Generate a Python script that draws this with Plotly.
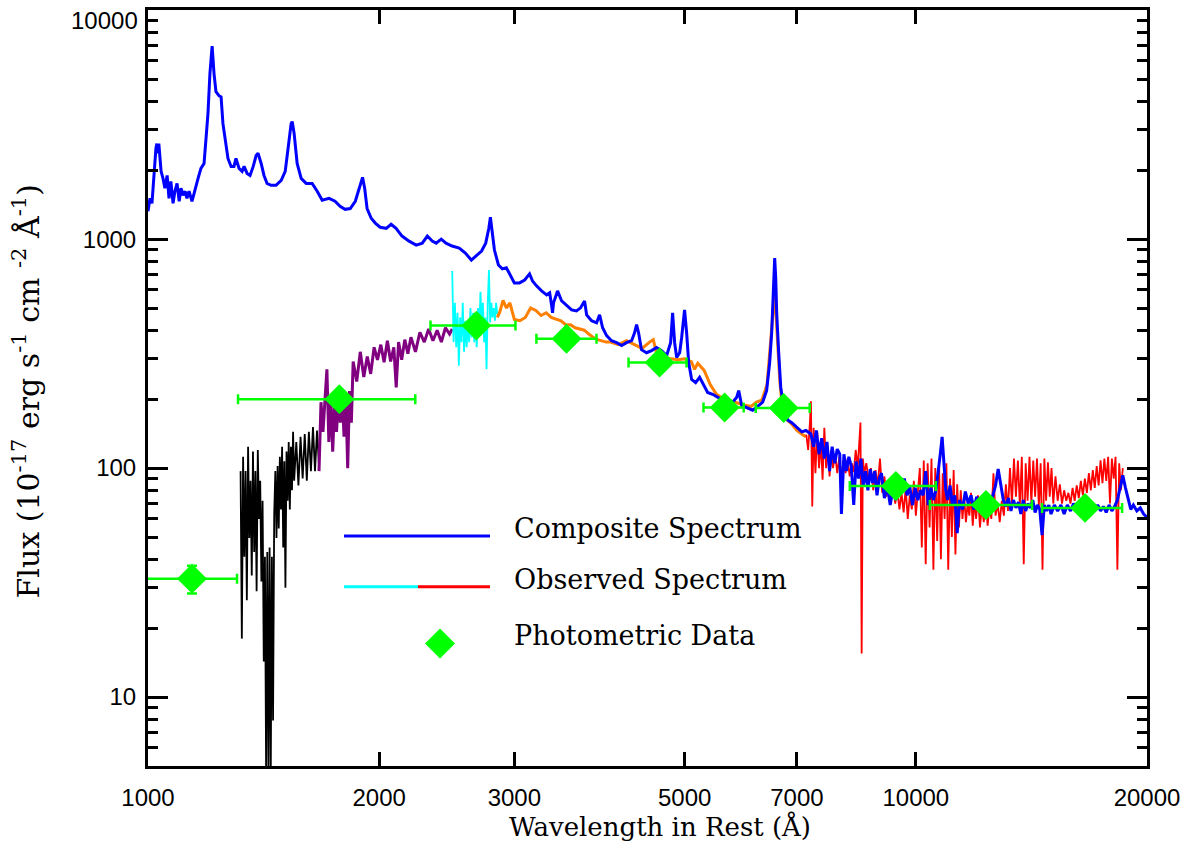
import plotly.graph_objects as go

# ---------------- data (wavelength in Angstrom, flux in 1e-17 erg/s/cm^2/A) -------------
blue_wave = [1000,1006,1012,1018,1024,1027,1030,1033,1040,1046,
             1052,1059,1065,1071,1078,1084,1091,1098,1104,1111,
             1118,1124,1131,1141,1152,1162,1172,1183,1190,1197,
             1204,1212,1219,1226,1237,1245,1252,1260,1271,1283,
             1294,1302,1314,1326,1334,1346,1358,1371,1383,1391,
             1404,1416,1429,1446,1468,1491,1509,1522,1536,1541,
             1550,1564,1583,1607,1636,1661,1686,1721,1752,1779,
             1806,1834,1862,1879,1897,1903,1915,1929,1953,1977,
             2006,2043,2073,2104,2142,2188,2235,2276,2311,2345,
             2373,2409,2444,2489,2543,2590,2637,2677,2719,2753,
             2779,2792,2809,2826,2860,2894,2929,2965,3000,3047,
             3094,3140,3168,3206,3255,3305,3335,3354,3364,3374,
             3415,3457,3510,3562,3614,3659,3703,3726,3781,3839,
             3874,3909,3956,4015,4076,4138,4200,4264,4302,4328,
             4354,4392,4459,4527,4595,4665,4736,4793,4822,4851,
             4881,4925,4954,4984,4998,5029,5060,5105,5167,5229,
             5292,5356,5436,5519,5602,5688,5774,5844,5879,5931,
             6020,6130,6223,6317,6392,6451,6490,6530,6549,6569,
             6588,6628,6669,6729,6810,6893,6996,7104,7191,
             7300,7360,7420,7480,7540,7600,7660,7720,7780,7840,
             7900,7960,8000,8060,8120,8180,8240,8300,8360,8420,
             8480,8540,8600,8660,8720,8780,8840,8900,8960,9020,
             9100,9180,9260,9340,9420,9500,9580,9660,9740,9820,
             9900,9980,10060,10140,10220,10300,10380,10460,10540,10620,
             10700,10760,10820,10880,10940,11000,11080,11160,11240,11320,
             11400,11500,11600,11700,11800,11900,12000,12100,12200,12300,
             12400,12500,12600,12700,12800,12900,13000,13100,13200,13300,
             13400,13500,13600,13700,13800,13900,14000,14100,14200,14300,
             14400,14500,14600,14700,14800,14900,15000,15150,15300,15450,
             15600,15750,15900,16050,16200,16350,16500,16650,16800,16950,
             17100,17250,17400,17550,17700,17850,18000,18150,18300,18450,
             18600,18750,18900,19050,19200,19400,19600,19800,20000]
blue_flux = [1324,1507,1434,1936,2487,2614,2366,2614,1977,1842,
             1667,1897,1507,1787,1434,1618,1751,1463,1667,1553,
             1618,1507,1618,1463,1667,1842,2037,2140,2748,3531,
             5270,6970,5270,4400,4230,4180,3193,2694,2250,2077,
             2077,2250,2037,1977,2077,1936,1897,2077,2318,2370,
             2140,1897,1751,1718,1718,1806,1977,2487,3193,3260,
             2890,2140,1842,1751,1751,1618,1479,1507,1463,1391,
             1349,1360,1463,1618,1823,1860,1667,1360,1233,1175,
             1127,1115,1161,1115,1031,980,942,960,1031,980,
             960,1000,960,933,914,869,810,851,887,960,
             1115,1247,1062,896,771,741,750,697,644,644,
             663,705,656,625,594,571,583,516,477,527,
             594,537,511,491,486,501,537,467,440,431,
             467,410,379,360,353,343,353,360,390,423,
             390,329,319,326,336,326,310,353,477,353,
             304,319,371,454,491,390,289,244,236,249,
             229,214,210,204,198,194,194,204,218,188,
             184,179,186,194,218,289,390,644,826,676,
             477,319,225,184,162,158,151,144,146,
             141,124,146,115,135,110,130,97,124,105,
             121,115,63,115,97,112,102,69,107,90,
             110,84,97,80,99,86,97,76,90,95,
             74,84,69,82,72.5,88,78,90,76,83,
             69,82,72.5,80,76,97,69,82,72.5,80,
             97,115,137,107,80,72.5,84,69,76,52,
             72.5,66,79,70,76,66,75,69,74,67,
             74,69,76,84,99,84,72.5,68,74,65,
             72.5,67,71,63,72.5,65,70,67,72.5,64,
             69,66,51,69,65,69,63,69,65,69,
             63,69,65,70,66,68,64,69,66,70,
             65,69,65,68,64,69,65,68,72.5,82,
             93,82,72.5,66,69,65,67,63,61]

black_wave = [1320,1325,1330,1335,1340,1345,1350,1355,1360,1365,
              1370,1375,1380,1385,1390,1395,1400,1405,1410,1415,
              1420,1425,1430,1435,1440,1445,1450,1455,1460,1465,
              1470,1475,1480,1485,1490,1495,1500,1505,1510,1515,
              1520,1525,1530,1535,1540,1545,1550,1560,1570,1580,
              1590,1600,1610,1620,1630,1640,1650,1660,1670]
black_flux = [97,18,112,41,97,26.5,124,49.5,88,34,
              118,43,97,29,120,60,88,32,72,14.3,
              41,4.8,43,4.5,45,4.6,41,7.9,63,97,
              49.5,102,54.5,112,66,124,45,107,30,118,
              72,130,66,124,80,144,88,130,84,137,
              90,141,88,144,97,151,97,146,102]

purple_wave = [1670,1680,1690,1700,1710,1720,1730,1740,1750,1760,
               1770,1780,1790,1800,1810,1820,1830,1840,1850,1870,
               1890,1910,1930,1950,1970,1990,2010,2030,2050,2070,
               2090,2105,2120,2140,2160,2180,2200,2230,2260,2290,
               2320,2350,2380,2410,2440,2470,2490]
purple_flux = [97,194,144,204,270,130,200,118,194,144,
               204,158,217,137,204,100,217,158,292,239,
               322,250,307,258,337,297,346,290,360,292,
               337,225,355,297,364,316,373,322,392,355,
               405,360,400,355,410,385,405]

cyan_wave = [2490,2500,2510,2520,2530,2540,2550,2560,2570,2580,
             2590,2600,2610,2620,2630,2640,2650,2660,2670,2680,
             2690,2700,2710,2720,2730,2740,2750,2760,2770,2780,
             2790,2800,2810,2820,2830,2840,2850]
cyan_flux = [726,355,527,337,477,280,455,355,527,322,
             440,337,433,355,500,372,477,355,433,337,
             500,392,589,433,527,355,455,270,527,733,
             433,527,455,500,440,527,470]

orange_wave = [2850,2870,2900,2930,2960,3000,3050,3100,3150,3200,
               3250,3300,3350,3400,3450,3500,3550,3600,3650,3700,
               3750,3800,3850,3900,3950,4000,4100,4200,4300,4400,
               4500,4550,4600,4700,4800,4900,5000,5100,5150,5200,
               5300,5400,5500,5600,5700,5800,5900,6000,6100,6200,
               6300,6400,6450,6500,6550,6600,6650,6700,6800,6900,
               7000,7100,7190]
orange_flux = [455,477,540,500,527,446,440,455,500,488,
               464,477,455,446,440,423,423,410,405,400,
               385,372,364,360,355,355,346,360,346,333,
               355,364,314,305,300,297,300,292,270,287,
               267,231,210,202,198,194,191,188,186,194,
               198,231,305,433,589,392,239,184,162,155,
               146,141,137]

red_wave = [7200,7240,7280,7300,7330,7360,7400,7440,7480,7520,
            7560,7600,7640,7680,7720,7760,7800,7850,7900,7950,
            8000,8050,8100,8150,8200,8250,8300,8350,8400,8440,
            8470,8500,8530,8570,8620,8680,8740,8800,8860,8920,
            8980,9040,9100,9160,9220,9280,9340,9400,9460,9520,
            9580,9640,9700,9760,9820,9880,9940,10000,10060,10120,
            10180,10240,10300,10360,10420,10480,10540,10600,10660,10720,
            10780,10840,10900,10960,11020,11080,11140,11200,11260,11320,
            11380,11440,11500,11560,11620,11680,11740,11800,11860,11920,
            11980,12050,12120,12190,12260,12330,12400,12470,12540,12620,
            12700,12780,12860,12940,13020,13100,13180,13260,13340,13420,
            13500,13580,13660,13740,13820,13900,13980,14060,14140,14220,
            14300,14380,14460,14540,14620,14700,14780,14860,14940,15020,
            15100,15200,15300,15400,15500,15600,15700,15800,15900,16000,
            16100,16200,16300,16400,16500,16600,16700,16800,16900,17000,
            17100,17200,17300,17400,17500,17600,17700,17800,17900,18000,
            18100,18200,18300,18400,18500,18600]
red_flux = [140,120,160,196,68,150,95,145,100,130,
            89,150,100,125,92,120,100,115,95,112,
            90,108,95,110,92,105,96,120,100,140,
            158,15.5,110,95,105,88,100,80,98,84,
            110,78,92,75,86,72,84,70,80,66,
            78,64,82,60,76,66,88,62,80,100,
            45,108,38,105,55,110,36,100,48,108,
            40,95,60,105,36,90,50,98,42,85,
            55,80,60,75,58,70,62,78,56,72,
            60,76,55,68,58,74,56,68,60,95,
            62,70,58,72,62,85,65,100,70,110,
            75,108,68,112,38,105,72,112,70,108,
            75,110,68,105,36,110,72,106,75,100,
            70,92,72,85,70,80,72,78,70,82,
            72,84,74,88,76,90,78,95,80,98,
            82,102,84,108,86,110,88,112,70,110,
            90,112,36,105,80,100]

phot_wave = [1141, 1775, 2677, 3508, 4637, 5636, 6728, 9417, 12340, 16610]
phot_flux = [32.9, 200, 419, 367, 289, 184, 183, 83.5, 69, 67]
phot_wave_lo = [980, 1310, 2333, 3205, 4225, 5290, 6187, 8203, 10430, 14600]
phot_wave_hi = [1306, 2229, 3010, 3838, 5028, 5967, 7274, 10620, 14170, 18560]
phot_flux_err = [4.6, 6, 10, 9, 7, 4, 4, 2, 1.5, 1.5]

x_tick_vals = [1000, 2000, 3000, 5000, 7000, 10000, 20000]
x_tick_text = ["1000", "2000", "3000", "5000", "7000", "10000", "20000"]
y_tick_vals = [10, 100, 1000, 10000]
y_tick_text = ["10", "100", "1000", "10000"]
y_minor_vals = [m * d for d in (1, 10, 100, 1000) for m in range(2, 10)] + [5, 6, 7, 8, 9]

for a, b in [(blue_wave, blue_flux), (black_wave, black_flux), (purple_wave, purple_flux),
             (cyan_wave, cyan_flux), (orange_wave, orange_flux), (red_wave, red_flux)]:
    assert len(a) == len(b), (len(a), len(b))

# ---------------- figure -------------
fig = go.Figure()

def spec(w, f, color, width):
    fig.add_trace(go.Scatter(x=w, y=f, mode="lines",
                             line=dict(color=color, width=width),
                             showlegend=False, hoverinfo="skip"))

spec(black_wave, black_flux, "#000000", 1.8)
spec(purple_wave, purple_flux, "#800080", 3)
spec(cyan_wave, cyan_flux, "#00FFFF", 1.8)
spec(orange_wave, orange_flux, "#FF8000", 3)
spec(red_wave, red_flux, "#FF0000", 1.8)
spec(blue_wave, blue_flux, "#0000FF", 3)

fig.add_trace(go.Scatter(
    x=phot_wave, y=phot_flux, mode="markers",
    marker=dict(symbol="diamond", size=23, color="#00FF00", line=dict(width=0)),
    error_x=dict(type="data", symmetric=False,
                 array=[h - w for h, w in zip(phot_wave_hi, phot_wave)],
                 arrayminus=[w - l for w, l in zip(phot_wave, phot_wave_lo)],
                 color="#00FF00", thickness=2.5, width=5),
    error_y=dict(type="data", array=phot_flux_err, color="#00FF00", thickness=2.5, width=5),
    showlegend=False, hoverinfo="skip"))

# ---------------- layout -------------
L, R, T, B = 148, 1147, 7, 766
W, H = 1201, 846

def px(x):
    return (x - L) / (R - L)

def py(y):
    return (B - y) / (B - T)

serif = "DejaVu Serif, Liberation Serif, serif"
tick_family = "Liberation Sans, Arial, sans-serif"
legend_font = dict(family=serif, size=27, color="black")
shapes = [
    dict(type="line", xref="paper", yref="paper", x0=px(344), x1=px(490), y0=py(535), y1=py(535),
         line=dict(color="#0000FF", width=3)),
    dict(type="line", xref="paper", yref="paper", x0=px(344), x1=px(418), y0=py(586), y1=py(586),
         line=dict(color="#00FFFF", width=3)),
    dict(type="line", xref="paper", yref="paper", x0=px(418), x1=px(490), y0=py(586), y1=py(586),
         line=dict(color="#FF0000", width=3)),
    dict(type="path", xref="paper", yref="paper",
         path=f"M {px(425)},{py(643)} L {px(440)},{py(628)} L {px(455)},{py(643)} L {px(440)},{py(658)} Z",
         fillcolor="#00FF00", line=dict(width=0)),
]
annotations = [
    dict(text="Composite Spectrum", x=px(512), y=py(528), xref="paper", yref="paper",
         xanchor="left", yanchor="middle", showarrow=False, font=legend_font),
    dict(text="Observed Spectrum", x=px(512), y=py(579), xref="paper", yref="paper",
         xanchor="left", yanchor="middle", showarrow=False, font=legend_font),
    dict(text="Photometric Data", x=px(512), y=py(635), xref="paper", yref="paper",
         xanchor="left", yanchor="middle", showarrow=False, font=legend_font),
    dict(text="Flux (10<sup>-17</sup> erg s<sup>-1</sup> cm <sup>-2</sup> Å<sup>-1</sup>)",
         x=px(27), y=py(390), xref="paper", yref="paper", textangle=-90,
         xanchor="center", yanchor="middle", showarrow=False,
         font=dict(family=serif, size=30, color="black")),
    dict(text="Wavelength in Rest (Å)", x=px(660), y=py(827), xref="paper", yref="paper",
         xanchor="center", yanchor="middle", showarrow=False,
         font=dict(family=serif, size=26, color="black")),
    # top y tick label, drawn just below the frame like the reference
    dict(text=y_tick_text[-1], x=px(140), y=py(18), xref="paper", yref="paper",
         xanchor="right", yanchor="middle", showarrow=False,
         font=dict(family=tick_family, size=24, color="black")),
]

tick_font = dict(family=tick_family, size=24, color="black")

fig.update_layout(
    width=W, height=H,
    margin=dict(l=L, r=W - R, t=T, b=H - B, pad=0),
    paper_bgcolor="white", plot_bgcolor="white",
    shapes=shapes, annotations=annotations,
    showlegend=False,
    xaxis=dict(type="log", range=[3, 4.30103], showgrid=False, zeroline=False,
               showline=True, linecolor="black", linewidth=3, mirror="ticks",
               ticks="inside", ticklen=14, tickwidth=2.5, tickcolor="black",
               tickvals=x_tick_vals, ticktext=x_tick_text, tickfont=tick_font,
               ticklabelstandoff=8),
    yaxis=dict(type="log", range=[0.69897, 4.0006], showgrid=False, zeroline=False,
               showline=True, linecolor="black", linewidth=3, mirror="ticks",
               ticks="inside", ticklen=20, tickwidth=2.5, tickcolor="black",
               tickvals=y_tick_vals, ticktext=y_tick_text[:-1] + [""], tickfont=tick_font,
               ticklabelstandoff=4,
               minor=dict(tickvals=y_minor_vals, ticks="inside", ticklen=10,
                          tickwidth=2.5, tickcolor="black", showgrid=False)),
)

fig.write_html("out.html")
